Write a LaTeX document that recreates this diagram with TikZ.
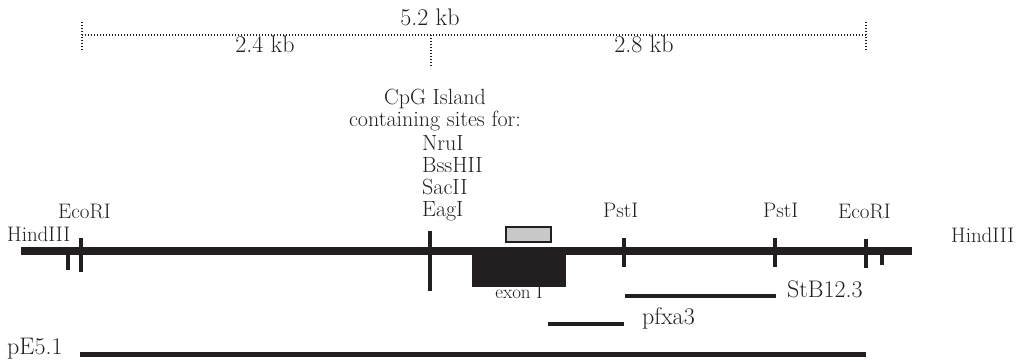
\documentclass[tikz,border=0pt]{standalone}
\definecolor{ink}{HTML}{231F20}
\definecolor{boxgrey}{HTML}{C8C8C8}
\begin{document}
\begin{tikzpicture}[x=1pt,y=-1pt,
  lbl/.style={inner sep=0pt, text=ink},
  sitelbl/.style={lbl, anchor=base west, font=\fontsize{21}{24}\selectfont},
  cpglbl/.style={lbl, font=\fontsize{22}{26}\selectfont},
  kblbl/.style={lbl, anchor=base, font=\fontsize{24}{26}\selectfont},
  probelbl/.style={lbl, anchor=base west, font=\fontsize{24}{26}\selectfont},
  dots/.style={draw=ink, line width=1.6pt, dash pattern=on 1.2pt off 1.8pt},
  backbone/.style={draw=ink, line width=8pt},
  site/.style={draw=ink, line width=4.5pt},
  smallsite/.style={draw=ink, line width=3.5pt},
  probe/.style={draw=ink, line width=4pt}]
\useasboundingbox (0,0) rectangle (1035,363);

% scale bar
\coordinate (sL) at (82,35);
\coordinate (sM) at (431,35);
\coordinate (sR) at (866,35);
\draw[dots] (sL) -- (sR);
\draw[dots] (82,22) -- (82,50);
\draw[dots] (sM) -- (431,68);
\draw[dots] (866,22) -- (866,50);
\node[kblbl] (kbtot) at (430,26) {5.2 kb};
\node[kblbl] (kbleft) at (265,53) {2.4 kb};
\node[kblbl] (kbright) at (644,53) {2.8 kb};

% CpG island text
\node[cpglbl, anchor=base] (cpg1) at (435,105) {CpG Island};
\node[cpglbl, anchor=base] (cpg2) at (435,127) {containing sites for:};
\node[cpglbl, anchor=base west] (nru) at (422,151) {NruI};
\node[cpglbl, anchor=base west] (bss) at (422,173) {BssHII};
\node[cpglbl, anchor=base west] (sac) at (422,195) {SacII};
\node[cpglbl, anchor=base west] (eag) at (422,217) {EagI};

% site labels
\node[sitelbl] (hindL) at (7,242) {HindIII};
\node[sitelbl] (ecoL) at (58,219) {EcoRI};
\node[sitelbl] (pst1) at (603,218) {PstI};
\node[sitelbl] (pst2) at (763,218) {PstI};
\node[sitelbl] (ecoR) at (838,219) {EcoRI};
\node[sitelbl] (hindR) at (951,243) {HindIII};

% exon label (behind block)
\node[lbl, anchor=base, font=\fontsize{19}{20}\selectfont] (exonlbl) at (519,298) {exon I};

% backbone
\coordinate (bbL) at (21,251);
\coordinate (bbR) at (912,251);
\draw[backbone] (bbL) -- (bbR);

% exon block
\fill[ink] (472,250) rectangle (566,287);
% grey box
\draw[draw=ink, fill=boxgrey, line width=1.5pt] (506,227) rectangle (551,242);

% site ticks
\draw[smallsite] (68,251) -- (68,270);
\draw[site] (81,238) -- (81,272);
\draw[site] (430,231) -- (430,291);
\draw[site] (624,238) -- (624,267);
\draw[site] (775,238) -- (775,267);
\draw[site] (866,239) -- (866,268);
\draw[smallsite] (882,251) -- (882,265);

% probes
\coordinate (stbA) at (625,296);
\coordinate (stbB) at (776,296);
\draw[probe] (stbA) -- (stbB);
\node[probelbl] (stb) at (787,297) {StB12.3};
\coordinate (pfA) at (548,324);
\coordinate (pfB) at (624,324);
\draw[probe] (pfA) -- (pfB);
\node[probelbl] (pfx) at (642,324) {pfxa3};
\coordinate (peA) at (80,354);
\coordinate (peB) at (866,354);
\draw[probe, line width=5pt] (peA) -- (peB);
\node[probelbl] (pe) at (7,354) {pE5.1};
\end{tikzpicture}
\end{document}
